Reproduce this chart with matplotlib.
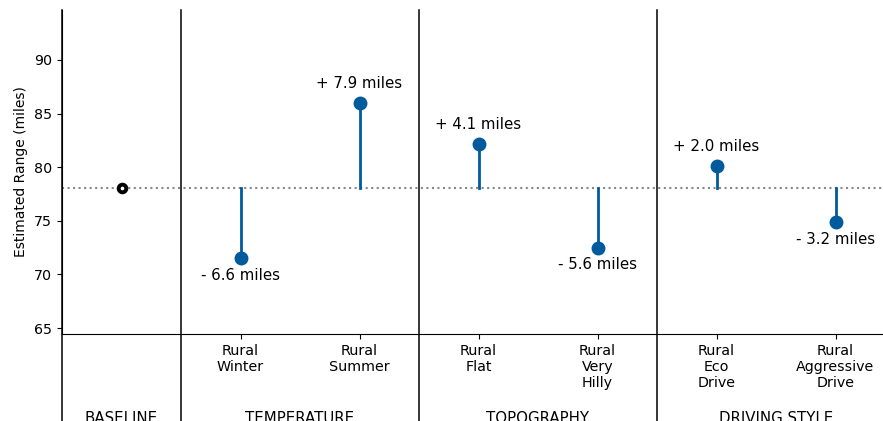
import matplotlib
matplotlib.use("Agg")
import matplotlib.pyplot as plt

# Data
BASELINE = 78.1
conditions = ["Rural\nWinter", "Rural\nSummer", "Rural\nFlat", "Rural\nVery\nHilly",
              "Rural\nEco\nDrive", "Rural\nAggressive\nDrive"]
ranges = [71.5, 86.0, 82.2, 72.5, 80.1, 74.9]
groups = ["BASELINE", "TEMPERATURE", "TOPOGRAPHY", "DRIVING STYLE"]
group_spans = [(0, 0), (1, 2), (3, 4), (5, 6)]

BLUE = "#005a9c"

W, H, DPI = 883, 421, 100
fig = plt.figure(figsize=(W / DPI, H / DPI), dpi=DPI)
# axes is wider than the figure on the right, like the cropped original
ax = fig.add_axes([62 / W, 1 - 334 / H, (895 - 62) / W, (334 - 10) / H])

ax.axhline(BASELINE, color="#888888", linestyle=":", linewidth=1.5, zorder=1)
ax.plot([0], [BASELINE], marker="o", markersize=5.5, markerfacecolor="white",
        markeredgecolor="black", markeredgewidth=2.8, linestyle="none", zorder=4)

xs = list(range(1, len(ranges) + 1))
for x, r in zip(xs, ranges):
    ax.plot([x, x], [BASELINE, r], color=BLUE, linewidth=2, zorder=2)
    ax.plot([x], [r], marker="o", markersize=9, color=BLUE, zorder=3)
    diff = r - BASELINE
    if diff >= 0:
        ax.annotate(f"+ {diff:.1f} miles", (x, r), xytext=(0, 14),
                    textcoords="offset points", ha="center", va="center", fontsize=10.8)
    else:
        ax.annotate(f"- {abs(diff):.1f} miles", (x, r), xytext=(0, -12.5),
                    textcoords="offset points", ha="center", va="center", fontsize=10.8)

ax.set_xlim(-0.5, 6.5)
ax.set_ylim(64.45, 94.65)
ax.set_yticks([65, 70, 75, 80, 85, 90])
ax.set_xticks(xs)
ax.set_xticklabels(conditions, fontsize=10.3)
ax.tick_params(axis="y", labelsize=10.3)
ax.set_ylabel("Estimated Range (miles)", fontsize=10)

for side in ["top", "right"]:
    ax.spines[side].set_visible(False)

# group separators running down into the label area
for sep in [-0.5, 0.5, 2.5, 4.5, 6.5]:
    ax.axvline(sep, ymin=-0.6, ymax=1, color="black", linewidth=1.1,
               clip_on=False, zorder=5)

trans = ax.get_xaxis_transform()
for name, (a, b) in zip(groups, group_spans):
    ax.text((a + b) / 2, -0.262, name, transform=trans, ha="center",
            va="center", fontsize=10.8, clip_on=False)

fig.savefig("out.png", dpi=DPI, facecolor="white")
